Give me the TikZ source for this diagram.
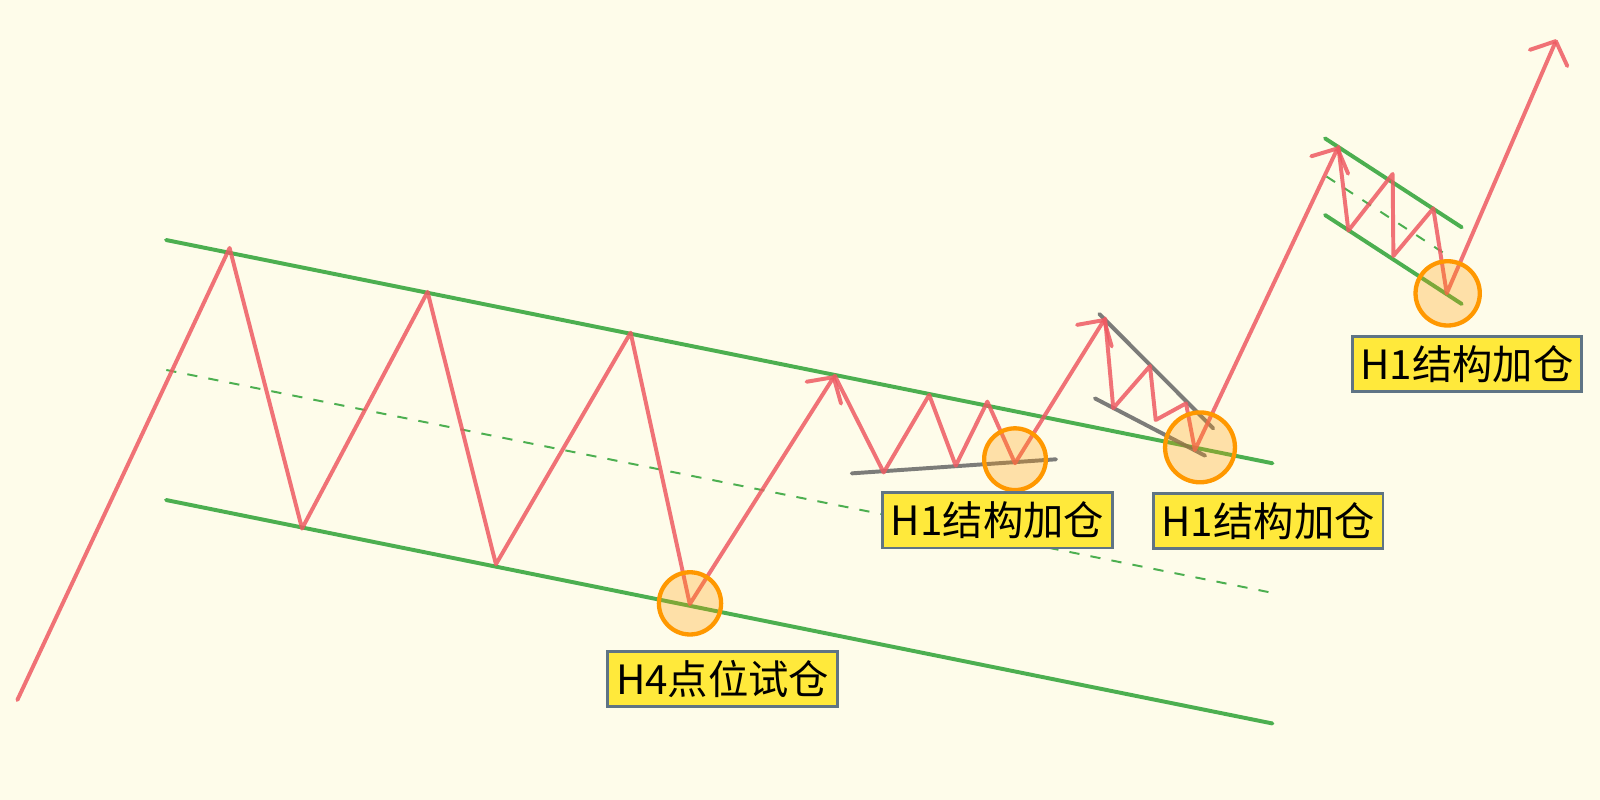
\documentclass[tikz,border=0pt]{standalone}
\usepackage{fontspec}
\newfontfamily\cjk{Noto Sans CJK SC}
\usetikzlibrary{arrows.meta}
\definecolor{bgcream}{HTML}{FEFCEA}
\definecolor{trendred}{HTML}{EE5A62}
\definecolor{chgreen}{HTML}{4CAF50}
\definecolor{entryorange}{HTML}{FF9800}
\definecolor{tagyellow}{HTML}{FFE93B}
\definecolor{tagborder}{HTML}{5F7484}
\tikzset{
  trend/.style={draw=trendred, draw opacity=0.85, line width=2.2pt, line join=round, line cap=round},
  trendarrow/.style={trend, -{Straight Barb[length=0.36cm, width=0.8cm, round]}},
  chline/.style={draw=chgreen, line width=2.2pt, line cap=round},
  chmid/.style={draw=chgreen, line width=1.1pt, dash pattern=on 0.2cm off 0.22cm},
  flatline/.style={draw=black!60, draw opacity=0.85, line width=2.2pt, line cap=round},
  entry/.style={circle, draw=entryorange, line width=2.4pt, fill=entryorange, fill opacity=0.28, draw opacity=1, inner sep=0pt},
  tag/.style={draw=tagborder, line width=1.6pt, fill=tagyellow, inner sep=0pt,
    minimum width=4.5cm, minimum height=1.08cm, font=\cjk\fontsize{22.5}{26}\selectfont}
}

\begin{document}
\begin{tikzpicture}[x=0.02cm, y=-0.02cm]
		%%%%% BACKGROUND %%%%%
		\fill[bgcream] (0, 0) rectangle (1568, 784);
		\useasboundingbox (0, 0) rectangle (1568, 784);
		
		%%%%% H4 CHANNEL %%%%%
		\draw[chline] (162.7, 235.2) -- (1247, 454);
		\draw[chline] (162.7, 490) -- (1247, 709);
		\draw[chmid] (163, 362.6) -- (1247, 581);
		
		%%%%% H1 STRUCTURES %%%%%
		\draw[flatline] (834.7, 463.9) -- (1034.9, 450.1);
		\draw[flatline] (1077.3, 307.7) -- (1189, 419.8);
		\draw[flatline] (1073, 390.4) -- (1181, 446.6);
		
		\draw[chline] (1298.5, 135.6) -- (1432.5, 222.8);
		\draw[chline] (1298.5, 210.7) -- (1432.5, 297.9);
		\draw[chmid] (1300, 173) -- (1422.6, 253);
		
		%%%%% PRICE %%%%%
		\draw[trendarrow] (17, 686) -- (225, 243) -- (296, 518) -- (419, 286) -- (486, 553) -- (618, 326) -- (676, 592) -- (818, 368);
		\draw[trendarrow] (818, 368) -- (866, 463) -- (910.6, 387) -- (936.6, 456.4) -- (967.6, 393.6) -- (994.7, 454) -- (1083, 312);
		\draw[trendarrow] (1083, 312) -- (1091, 400) -- (1127, 358.7) -- (1132.6, 411.6) -- (1162.3, 395.3) -- (1171, 441) -- (1311.6, 143.7);
		\draw[trendarrow] (1311.6, 143.7) -- (1321.4, 226) -- (1364.8, 170.5) -- (1365.5, 250.9) -- (1404.6, 204.2) -- (1417.8, 287.5) -- (1525.5, 38.5);
		
		%%%%% ENTRIES %%%%%
		\node[entry, minimum size=1.22cm] (e1) at (676.2, 591.3) {};
		\node[entry, minimum size=1.21cm] (e2) at (994.7, 450) {};
		\node[entry, minimum size=1.37cm] (e3) at (1176, 438.4) {};
		\node[entry, minimum size=1.26cm] (e4) at (1418.7, 287.5) {};
		
		%%%%% LABELS %%%%%
		\node[tag] (t1) at (708.2, 665.5) {H4点位试仓};
		\node[tag] (t2) at (977.5, 510) {H1结构加仓};
		\node[tag] (t3) at (1242.8, 510.3) {H1结构加仓};
		\node[tag] (t4) at (1437.5, 357) {H1结构加仓};
	\end{tikzpicture}
\end{document}
